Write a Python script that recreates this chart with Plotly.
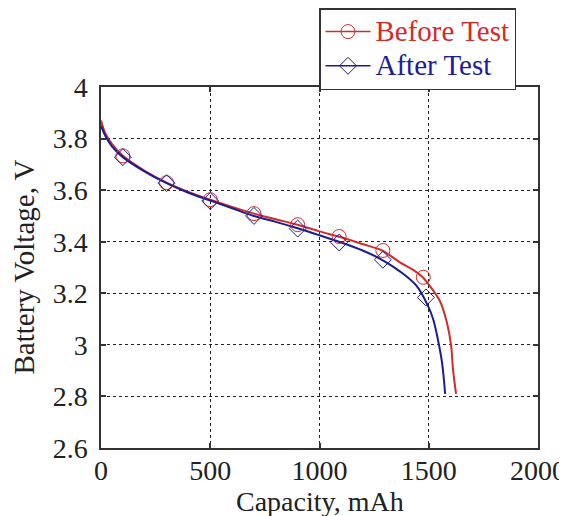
import plotly.graph_objects as go

# Before Test curve (red)
before_cap = [0, 20, 50, 100, 200, 300, 400, 500, 600, 700, 800, 900, 1000, 1100, 1200, 1286, 1368, 1430, 1469, 1506, 1551, 1583, 1602, 1611, 1625]
before_v = [3.87, 3.82, 3.78, 3.733, 3.675, 3.629, 3.593, 3.563, 3.535, 3.509, 3.487, 3.466, 3.44, 3.417, 3.39, 3.366, 3.32, 3.29, 3.265, 3.227, 3.17, 3.087, 3.0, 2.905, 2.81]
# After Test curve (blue)
after_cap = [0, 20, 50, 100, 200, 300, 400, 500, 600, 700, 800, 900, 1000, 1100, 1200, 1286, 1368, 1446, 1497, 1520, 1542, 1561, 1575]
after_v = [3.85, 3.81, 3.77, 3.728, 3.672, 3.627, 3.59, 3.56, 3.53, 3.50, 3.477, 3.452, 3.425, 3.397, 3.365, 3.33, 3.285, 3.227, 3.15, 3.10, 3.02, 2.93, 2.81]
# marker points
before_mk_cap = [100, 300, 500, 700, 900, 1090, 1290, 1475]
before_mk_v = [3.733, 3.629, 3.563, 3.509, 3.466, 3.42, 3.366, 3.262]
after_mk_cap = [100, 300, 500, 700, 900, 1090, 1290, 1487]
after_mk_v = [3.728, 3.627, 3.558, 3.50, 3.451, 3.397, 3.33, 3.184]

x_ticks = [0, 500, 1000, 1500, 2000]
y_ticks = [2.6, 2.8, 3.0, 3.2, 3.4, 3.6, 3.8, 4.0]
y_tick_text = ["2.6", "2.8", "3", "3.2", "3.4", "3.6", "3.8", "4"]

RED = "#d42a2a"
BLUE = "#1c1c96"
FONT = "Liberation Serif"

fig = go.Figure()
fig.add_trace(go.Scatter(x=before_cap, y=before_v, mode="lines", line=dict(color=RED, width=2, shape="spline"), showlegend=False))
fig.add_trace(go.Scatter(x=after_cap, y=after_v, mode="lines", line=dict(color=BLUE, width=2, shape="spline"), showlegend=False))
fig.add_trace(go.Scatter(x=before_mk_cap, y=before_mk_v, mode="markers",
                         marker=dict(symbol="circle-open", size=14, color=RED, line=dict(width=1)), showlegend=False))
fig.add_trace(go.Scatter(x=after_mk_cap, y=after_mk_v, mode="markers",
                         marker=dict(symbol="diamond-open", size=13, color=BLUE, line=dict(width=1)), showlegend=False))
# legend entries
fig.add_trace(go.Scatter(x=[None], y=[None], mode="lines+markers",
                         name="<span style='color:%s;font-size:29px'>Before Test</span>" % RED,
                         line=dict(color=RED, width=1.5), marker=dict(symbol="circle-open", size=14, color=RED, line=dict(width=1))))
fig.add_trace(go.Scatter(x=[None], y=[None], mode="lines+markers",
                         name="<span style='color:%s;font-size:29px'>After Test</span>" % BLUE,
                         line=dict(color=BLUE, width=1.5), marker=dict(symbol="diamond-open", size=13, color=BLUE, line=dict(width=1))))

axis_common = dict(showline=True, linecolor="#333", linewidth=1.5, mirror="ticks",
                   ticks="inside", ticklen=5, tickcolor="#333", tickwidth=1.5,
                   showgrid=True, gridcolor="#222", griddash="dot", gridwidth=1,
                   zeroline=False, tickfont=dict(family=FONT, size=28, color="#222"))

# the page body adds an 8px offset, so the figure is 8px smaller and margins shifted
fig.update_layout(
    width=559, height=508,
    margin=dict(l=93, r=29, t=79, b=68, autoexpand=False),
    paper_bgcolor="white", plot_bgcolor="white",
    font=dict(family=FONT, color="#222"),
    xaxis=dict(range=[0, 2000], tickvals=x_ticks, ticklabelstandoff=-3, **axis_common),
    yaxis=dict(range=[2.6, 4.0], tickvals=y_ticks, ticktext=y_tick_text, ticklabelstandoff=6, **axis_common),
    legend=dict(xref="container", yref="container", x=311 / 559, y=1.0, xanchor="left", yanchor="top",
                bgcolor="white", bordercolor="#333", borderwidth=1.5, font=dict(family=FONT, size=24),
                tracegroupgap=0, itemwidth=45),
    annotations=[
        dict(text="Capacity, mAh", xref="paper", yref="paper", x=0.5, y=-53 / 361, xanchor="center", yanchor="middle",
             showarrow=False, font=dict(family=FONT, size=28, color="#222")),
        dict(text="Battery Voltage, V", xref="paper", yref="paper", x=-78 / 437, y=0.5, xanchor="center", yanchor="middle",
             textangle=-90, showarrow=False, font=dict(family=FONT, size=29, color="#222")),
    ],
)
fig.write_html("out.html")
